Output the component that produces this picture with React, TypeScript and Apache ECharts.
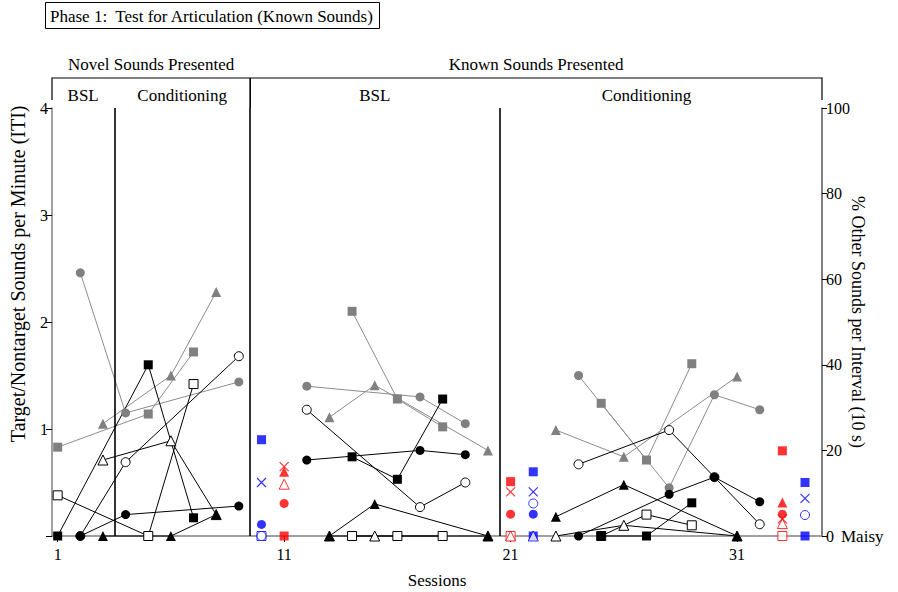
import React, { useEffect, useRef } from "react";
import * as echarts from "echarts";

const FONT = "Liberation Serif, serif";

// Probe sessions for each sound (circle / square / triangle) in each condition
const novelCircleSessions = [2, 4, 9];
const novelSquareSessions = [1, 5, 7];
const novelTriangleSessions = [3, 6, 8];
const bslCircleSessions = [12, 17, 19];
const bslSquareSessions = [14, 16, 18];
const bslTriangleSessions = [13, 15, 20];
const condCircleSessions = [24, 28, 30, 32];
const condSquareSessions = [25, 27, 29];
const condTriangleSessions = [23, 26, 31];

// Target/nontarget sounds per minute: [novel, known BSL, known conditioning]
const grayCircle = [[2.46, 1.15, 1.44], [1.4, 1.3, 1.05], [1.5, 0.45, 1.32, 1.18]];
const blackCircle = [[0, 0.2, 0.28], [0.71, 0.8, 0.76], [0, 0.39, 0.55, 0.32]];
const openCircle = [[0, 0.69, 1.68], [1.18, 0.27, 0.5], [0.67, 0.99, 0.55, 0.11]];
const graySquare = [[0.83, 1.14, 1.72], [2.1, 1.28, 1.02], [1.24, 0.71, 1.61]];
const blackSquare = [[0, 1.6, 0.17], [0.74, 0.53, 1.28], [0, 0, 0.31]];
const openSquare = [[0.38, 0, 1.42], [0, 0, 0], [0, 0.2, 0.1]];
const grayTriangle = [[1.05, 1.5, 2.28], [1.11, 1.41, 0.8], [0.99, 0.74, 1.49]];
const blackTriangle = [[0, 0, 0.2], [0, 0.3, 0], [0.18, 0.48, 0]];
const openTriangle = [[0.71, 0.89, 0.2], [0, 0, 0], [0, 0.1, 0]];

// % other sounds per 10-s interval: [session, percent]
const redSquare = [[11, 0], [21, 12.7], [33, 19.9]];
const redOpenSquare = [[21, 0], [33, 0]];
const redOpenTriangle = [[11, 12.1], [21, 0], [33, 2.9]];
const redCircle = [[11, 7.6], [21, 5.1], [33, 5.1]];
const redTriangle = [[11, 15.0], [33, 7.8]];
const redCross = [[11, 16.2], [21, 10.3], [33, 4.0]];
const blueSquare = [[10, 22.5], [22, 15.0], [22, 0], [34, 12.5], [34, 0]];
const blueOpenSquare = [[10, 0]];
const blueOpenCircle = [[10, 0], [22, 7.6], [34, 4.9]];
const blueOpenTriangle = [[22, 0]];
const blueCircle = [[10, 2.7], [22, 5.1]];
const blueCross = [[10, 12.5], [22, 10.3], [34, 8.8]];

const xTicks = [1, 11, 21, 31];
const phaseBreaks = [3.5, 9.5, 20.5];

const CROSS = "path://M0,0L10,10M10,0L0,10";

type Kind = "gray" | "black" | "open";

function styleFor(kind: Kind) {
  if (kind === "gray") return { item: { color: "#808080" }, line: "#8c8c8c" };
  if (kind === "black") return { item: { color: "#000" }, line: "#000" };
  return { item: { color: "#fff", borderColor: "#000", borderWidth: 1 }, line: "#000" };
}

function probeSeries(
  name: string,
  values: number[][],
  sessionSets: number[][],
  symbol: string,
  kind: Kind
) {
  const st = styleFor(kind);
  return values.map((vals, p) => ({
    type: "line",
    name: name + "-" + p,
    data: sessionSets[p].map((s, i) => [s, vals[i]]),
    symbol,
    symbolSize: symbol === "triangle" ? 10 : 9,
    showSymbol: true,
    clip: false,
    itemStyle: st.item,
    lineStyle: { color: st.line, width: 1 },
    emphasis: { disabled: true },
    xAxisIndex: 0,
    yAxisIndex: 0,
  }));
}

function otherSeries(name: string, data: number[][], symbol: string, color: string, open: boolean) {
  const isCross = symbol === CROSS;
  return {
    type: "scatter",
    name,
    data,
    symbol,
    symbolSize: isCross ? 9 : symbol === "triangle" ? 10 : 9,
    clip: false,
    yAxisIndex: 1,
    itemStyle: isCross
      ? { color: "none", borderColor: color, borderWidth: 1.2 }
      : open
      ? { color: "#fff", borderColor: color, borderWidth: 1 }
      : { color },
    emphasis: { disabled: true },
  };
}

export default function App() {
  const ref = useRef<HTMLDivElement>(null);

  useEffect(() => {
    if (!ref.current) return;
    const chart = echarts.init(ref.current, undefined, { renderer: "svg" });

    const circleSets = [novelCircleSessions, bslCircleSessions, condCircleSessions];
    const squareSets = [novelSquareSessions, bslSquareSessions, condSquareSessions];
    const triangleSets = [novelTriangleSessions, bslTriangleSessions, condTriangleSessions];

    const series: any[] = [
      ...probeSeries("grayCircle", grayCircle, circleSets, "circle", "gray"),
      ...probeSeries("graySquare", graySquare, squareSets, "rect", "gray"),
      ...probeSeries("grayTriangle", grayTriangle, triangleSets, "triangle", "gray"),
      ...probeSeries("openCircle", openCircle, circleSets, "circle", "open"),
      ...probeSeries("openSquare", openSquare, squareSets, "rect", "open"),
      ...probeSeries("openTriangle", openTriangle, triangleSets, "triangle", "open"),
      ...probeSeries("blackCircle", blackCircle, circleSets, "circle", "black"),
      ...probeSeries("blackSquare", blackSquare, squareSets, "rect", "black"),
      ...probeSeries("blackTriangle", blackTriangle, triangleSets, "triangle", "black"),
      otherSeries("redSquare", redSquare, "rect", "#ff0000", false),
      otherSeries("redOpenSquare", redOpenSquare, "rect", "#ff0000", true),
      otherSeries("redOpenTriangle", redOpenTriangle, "triangle", "#ff0000", true),
      otherSeries("redCircle", redCircle, "circle", "#ff0000", false),
      otherSeries("redTriangle", redTriangle, "triangle", "#ff0000", false),
      otherSeries("redCross", redCross, CROSS, "#ff0000", false),
      otherSeries("blueSquare", blueSquare, "rect", "#0000ff", false),
      otherSeries("blueOpenSquare", blueOpenSquare, "rect", "#0000ff", true),
      otherSeries("blueOpenCircle", blueOpenCircle, "circle", "#0000ff", true),
      otherSeries("blueOpenTriangle", blueOpenTriangle, "triangle", "#0000ff", true),
      otherSeries("blueCircle", blueCircle, "circle", "#0000ff", false),
      otherSeries("blueCross", blueCross, CROSS, "#0000ff", false),
    ];

    // condition-change lines inside the plotting area
    series[0].markLine = {
      silent: true,
      symbol: "none",
      label: { show: false },
      lineStyle: { color: "#000", width: 1.6, type: "solid" },
      data: phaseBreaks.map((x) => ({ xAxis: x })),
    };

    chart.setOption({
      animation: false,
      backgroundColor: "#fff",
      textStyle: { fontFamily: FONT },
      grid: { left: 52, right: 76, top: 108, bottom: 56, outerBoundsMode: "none", containLabel: false },
      xAxis: {
        type: "value",
        min: 0.75,
        max: 34.75,
        name: "Sessions",
        nameLocation: "middle",
        nameGap: 36,
        nameMoveOverlap: false,
        nameTextStyle: { fontFamily: FONT, fontSize: 17, color: "#000" },
        splitLine: { show: false },
        axisLine: { lineStyle: { color: "#808080", width: 1.5 } },
        axisTick: { customValues: xTicks, length: 6, lineStyle: { color: "#000" } },
        axisLabel: { customValues: xTicks, margin: 10, fontFamily: FONT, fontSize: 16, color: "#000" },
      },
      yAxis: [
        {
          type: "value",
          min: 0,
          max: 4,
          interval: 1,
          splitLine: { show: false },
          axisLine: { show: true, lineStyle: { color: "#808080", width: 1.5 } },
          axisTick: { show: true, length: 6, lineStyle: { color: "#000" } },
          axisLabel: {
            margin: 4,
            fontFamily: FONT,
            fontSize: 16,
            color: "#000",
            formatter: (v: number) => (v === 0 ? "" : String(v)),
          },
        },
        {
          type: "value",
          position: "right",
          min: 0,
          max: 100,
          interval: 20,
          name: "% Other Sounds per Interval (10 s)",
          nameLocation: "middle",
          nameRotate: -90,
          nameGap: 27,
          nameMoveOverlap: false,
          nameTextStyle: { fontFamily: FONT, fontSize: 18, color: "#000" },
          splitLine: { show: false },
          axisLine: { show: true, lineStyle: { color: "#555", width: 1.5 } },
          axisTick: { show: true, length: 5, lineStyle: { color: "#000" } },
          axisLabel: {
            margin: 4,
            fontFamily: FONT,
            fontSize: 16,
            color: "#000",
            formatter: (v: number) => (v === 0 ? "0 {m|Maisy}" : String(v)),
            rich: { m: { fontFamily: FONT, fontSize: 17, color: "#000", padding: [0, 0, 0, 3] } },
          },
        },
      ],
      series,
    });

    // header bracket, condition labels and left axis title positioned from the scales
    const px = (s: number) => chart.convertToPixel({ xAxisIndex: 0 }, s) as number;
    const py = (v: number) => chart.convertToPixel({ yAxisIndex: 0 }, v) as number;
    const left = px(0.75);
    const right = px(34.75);
    const split = px(9.5);
    const top = py(4);
    const bracketY = 78;

    const label = (text: string, x: number, y: number) => ({
      type: "text",
      x,
      y,
      style: { text, fill: "#000", fontFamily: FONT, fontSize: 17, align: "center", verticalAlign: "middle" },
    });

    chart.setOption({
      graphic: [
        {
          type: "rect",
          shape: { x: 45.5, y: 2.5, width: 334, height: 26 },
          style: { fill: "#fff", stroke: "#000", lineWidth: 1 },
        },
        {
          type: "text",
          x: 50,
          y: 16,
          style: {
            text: "Phase 1:  Test for Articulation (Known Sounds)",
            fill: "#000",
            fontFamily: FONT,
            fontSize: 17,
            align: "left",
            verticalAlign: "middle",
          },
        },
        {
          type: "text",
          x: 18,
          y: (py(4) + py(0.9)) / 2,
          rotation: Math.PI / 2,
          style: {
            text: "Target/Nontarget Sounds per Minute (ITI)",
            fill: "#000",
            fontFamily: FONT,
            fontSize: 20,
            align: "center",
            verticalAlign: "middle",
          },
        },
        {
          type: "polyline",
          shape: { points: [[left, 100], [left, bracketY], [right, bracketY], [right, 100]] },
          style: { stroke: "#000", lineWidth: 1.2, fill: "none" },
        },
        {
          type: "line",
          shape: { x1: split, y1: bracketY, x2: split, y2: top },
          style: { stroke: "#000", lineWidth: 1.6 },
        },
        label("Novel Sounds Presented", px((0.75 + 9.5) / 2), 64),
        label("Known Sounds Presented", px((9.5 + 34.75) / 2), 64),
        label("BSL", px((0.75 + 3.5) / 2), 95),
        label("Conditioning", px((3.5 + 9.5) / 2), 95),
        label("BSL", px((9.5 + 20.5) / 2), 95),
        label("Conditioning", px(27), 95),
      ],
    });

    return () => chart.dispose();
  }, []);

  return <div ref={ref} style={{ position: "absolute", left: 0, top: 0, width: 898, height: 592 }} />;
}
